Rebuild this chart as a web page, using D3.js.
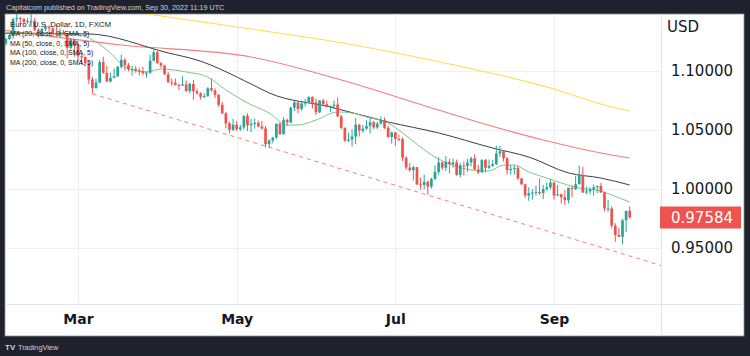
<!DOCTYPE html>
<html><head><meta charset="utf-8">
<script src="https://cdn.jsdelivr.net/npm/d3@7"></script>
<style>html,body{margin:0;padding:0;background:#1e222d;}svg{display:block;}</style>
</head><body><svg id="c" width="750" height="356"></svg>
<script>
const dates = [
"2022-01-31",
"2022-02-01","2022-02-02","2022-02-03","2022-02-04","2022-02-07","2022-02-08","2022-02-09","2022-02-10","2022-02-11","2022-02-14","2022-02-15","2022-02-16","2022-02-17","2022-02-18","2022-02-21","2022-02-22","2022-02-23","2022-02-24","2022-02-25","2022-02-28",
"2022-03-01","2022-03-02","2022-03-03","2022-03-04","2022-03-07","2022-03-08","2022-03-09","2022-03-10","2022-03-11","2022-03-14","2022-03-15","2022-03-16","2022-03-17","2022-03-18","2022-03-21","2022-03-22","2022-03-23","2022-03-24","2022-03-25","2022-03-28","2022-03-29","2022-03-30","2022-03-31",
"2022-04-01","2022-04-04","2022-04-05","2022-04-06","2022-04-07","2022-04-08","2022-04-11","2022-04-12","2022-04-13","2022-04-14","2022-04-15","2022-04-18","2022-04-19","2022-04-20","2022-04-21","2022-04-22","2022-04-25","2022-04-26","2022-04-27","2022-04-28","2022-04-29",
"2022-05-02","2022-05-03","2022-05-04","2022-05-05","2022-05-06","2022-05-09","2022-05-10","2022-05-11","2022-05-12","2022-05-13","2022-05-16","2022-05-17","2022-05-18","2022-05-19","2022-05-20","2022-05-23","2022-05-24","2022-05-25","2022-05-26","2022-05-27","2022-05-30","2022-05-31",
"2022-06-01","2022-06-02","2022-06-03","2022-06-06","2022-06-07","2022-06-08","2022-06-09","2022-06-10","2022-06-13","2022-06-14","2022-06-15","2022-06-16","2022-06-17","2022-06-20","2022-06-21","2022-06-22","2022-06-23","2022-06-24","2022-06-27","2022-06-28","2022-06-29","2022-06-30",
"2022-07-01","2022-07-04","2022-07-05","2022-07-06","2022-07-07","2022-07-08","2022-07-11","2022-07-12","2022-07-13","2022-07-14","2022-07-15","2022-07-18","2022-07-19","2022-07-20","2022-07-21","2022-07-22","2022-07-25","2022-07-26","2022-07-27","2022-07-28","2022-07-29",
"2022-08-01","2022-08-02","2022-08-03","2022-08-04","2022-08-05","2022-08-08","2022-08-09","2022-08-10","2022-08-11","2022-08-12","2022-08-15","2022-08-16","2022-08-17","2022-08-18","2022-08-19","2022-08-22","2022-08-23","2022-08-24","2022-08-25","2022-08-26","2022-08-29","2022-08-30","2022-08-31",
"2022-09-01","2022-09-02","2022-09-05","2022-09-06","2022-09-07","2022-09-08","2022-09-09","2022-09-12","2022-09-13","2022-09-14","2022-09-15","2022-09-16","2022-09-19","2022-09-20","2022-09-21","2022-09-22","2022-09-23","2022-09-26","2022-09-27","2022-09-28","2022-09-29","2022-09-30"];

const opens = [1.1146,
1.1234,1.1271,1.1304,1.1439,1.1450,1.1442,1.1415,1.1423,1.1426,1.1349,1.1306,1.1357,1.1374,1.1362,1.1322,1.1308,1.1331,1.1308,1.1196,1.1268,
1.1220,1.1125,1.1119,1.1065,1.0928,1.0855,1.0902,1.1075,1.0984,1.0912,1.0941,1.0955,1.1035,1.1094,1.1050,1.1015,1.1017,1.1005,1.0999,1.0983,1.0985,1.1087,1.1159,
1.1067,1.1046,1.0971,1.0904,1.0900,1.0882,1.0875,1.0886,1.0830,1.0890,1.0828,1.0810,1.0781,1.0788,1.0854,1.0836,1.0797,1.0713,1.0640,1.0556,1.0501,
1.0545,1.0507,1.0522,1.0620,1.0540,1.0551,1.0561,1.0530,1.0513,1.0380,1.0411,1.0436,1.0554,1.0464,1.0586,1.0563,1.0690,1.0734,1.0678,1.0724,1.0733,1.0779,
1.0733,1.0650,1.0750,1.0719,1.0696,1.0704,1.0715,1.0615,1.0518,1.0410,1.0420,1.0445,1.0545,1.0495,1.0512,1.0535,1.0566,1.0522,1.0553,1.0585,1.0518,1.0441,
1.0480,1.0425,1.0423,1.0265,1.0182,1.0160,1.0185,1.0040,1.0035,1.0060,1.0020,1.0085,1.0145,1.0225,1.0180,1.0230,1.0210,1.0225,1.0120,1.0200,1.0195,
1.0225,1.0260,1.0165,1.0140,1.0245,1.0180,1.0195,1.0210,1.0300,1.0320,1.0260,1.0160,1.0170,1.0180,1.0090,1.0040,0.9945,0.9965,0.9970,0.9975,0.9965,1.0000,1.0015,
1.0055,0.9945,0.9955,0.9930,0.9905,1.0010,1.0000,1.0040,1.0120,0.9970,0.9980,0.9995,1.0015,1.0025,0.9970,0.9835,0.9835,0.9690,0.9610,0.9595,0.9735,0.9815];

const highs = [1.1245,
1.1280,1.1315,1.1451,1.1483,1.1460,1.1446,1.1449,1.1495,1.1450,1.1363,1.1368,1.1395,1.1390,1.1370,1.1395,1.1360,1.1347,1.1310,1.1274,1.1270,
1.1234,1.1149,1.1124,1.1075,1.0950,1.0934,1.1092,1.1121,1.1044,1.0985,1.1021,1.1043,1.1137,1.1110,1.1068,1.1045,1.1040,1.1024,1.1035,1.0995,1.1137,1.1185,1.1177,
1.1076,1.1053,1.0992,1.0936,1.0937,1.0893,1.0957,1.0920,1.0900,1.0925,1.0850,1.0820,1.0812,1.0863,1.0936,1.0852,1.0804,1.0738,1.0655,1.0570,1.0594,
1.0577,1.0545,1.0623,1.0642,1.0593,1.0599,1.0580,1.0577,1.0534,1.0423,1.0443,1.0552,1.0564,1.0607,1.0597,1.0697,1.0749,1.0738,1.0736,1.0765,1.0787,1.0786,
1.0765,1.0753,1.0764,1.0750,1.0709,1.0749,1.0775,1.0630,1.0522,1.0479,1.0505,1.0601,1.0551,1.0545,1.0583,1.0606,1.0578,1.0570,1.0615,1.0606,1.0537,1.0487,
1.0485,1.0463,1.0436,1.0276,1.0219,1.0199,1.0187,1.0097,1.0120,1.0074,1.0096,1.0201,1.0268,1.0234,1.0278,1.0257,1.0258,1.0249,1.0220,1.0235,1.0254,
1.0274,1.0294,1.0205,1.0254,1.0253,1.0250,1.0248,1.0368,1.0364,1.0330,1.0272,1.0203,1.0200,1.0193,1.0094,1.0042,1.0015,0.9999,1.0028,1.0090,1.0035,1.0055,1.0080,
1.0060,1.0034,0.9960,0.9990,1.0012,1.0030,1.0112,1.0198,1.0187,1.0020,1.0018,1.0037,1.0030,1.0051,0.9976,0.9907,0.9852,0.9710,0.9670,0.9747,0.9815,0.9853];

const lows = [1.1122,
1.1216,1.1263,1.1270,1.1412,1.1400,1.1395,1.1400,1.1373,1.1339,1.1281,1.1289,1.1339,1.1314,1.1303,1.1287,1.1288,1.1303,1.1106,1.1183,1.1121,
1.1086,1.1055,1.1038,1.0890,1.0806,1.0850,1.0895,1.0977,1.0906,1.0903,1.0939,1.0950,1.1021,1.1003,1.0998,1.0961,1.0985,1.0963,1.0965,1.0945,1.0975,1.1080,1.1060,
1.1027,1.0968,1.0900,1.0874,1.0877,1.0837,1.0874,1.0822,1.0810,1.0757,1.0801,1.0758,1.0769,1.0780,1.0824,1.0770,1.0697,1.0636,1.0515,1.0470,1.0492,
1.0490,1.0492,1.0505,1.0493,1.0483,1.0511,1.0522,1.0505,1.0352,1.0350,1.0389,1.0425,1.0461,1.0462,1.0532,1.0557,1.0660,1.0642,1.0664,1.0699,1.0730,1.0682,
1.0627,1.0642,1.0713,1.0690,1.0654,1.0677,1.0608,1.0508,1.0399,1.0397,1.0359,1.0381,1.0445,1.0475,1.0502,1.0469,1.0508,1.0510,1.0548,1.0509,1.0433,1.0383,
1.0365,1.0406,1.0236,1.0162,1.0144,1.0072,1.0033,0.9998,0.9998,0.9952,1.0004,1.0074,1.0123,1.0160,1.0153,1.0131,1.0180,1.0111,1.0097,1.0114,1.0145,
1.0190,1.0160,1.0125,1.0140,1.0141,1.0171,1.0190,1.0203,1.0273,1.0233,1.0122,1.0122,1.0123,1.0076,1.0033,0.9926,0.9900,0.9910,0.9945,0.9948,0.9914,0.9982,0.9996,
0.9910,0.9943,0.9876,0.9865,0.9877,0.9929,0.9990,1.0040,0.9966,0.9955,0.9954,0.9945,0.9966,0.9967,0.9810,0.9807,0.9667,0.9552,0.9595,0.9535,0.9636,0.9749];

const closes = [1.1234,
1.1271,1.1304,1.1439,1.1450,1.1442,1.1415,1.1423,1.1426,1.1349,1.1306,1.1357,1.1374,1.1362,1.1322,1.1308,1.1331,1.1308,1.1196,1.1268,1.1220,
1.1125,1.1119,1.1065,1.0928,1.0855,1.0902,1.1075,1.0984,1.0912,1.0941,1.0955,1.1035,1.1094,1.1050,1.1015,1.1017,1.1005,1.0999,1.0983,1.0985,1.1087,1.1159,1.1067,
1.1046,1.0971,1.0904,1.0900,1.0882,1.0875,1.0886,1.0830,1.0890,1.0828,1.0810,1.0781,1.0788,1.0854,1.0836,1.0797,1.0713,1.0640,1.0556,1.0501,1.0545,
1.0507,1.0522,1.0620,1.0540,1.0551,1.0561,1.0530,1.0513,1.0380,1.0411,1.0436,1.0554,1.0464,1.0586,1.0563,1.0690,1.0734,1.0678,1.0724,1.0733,1.0779,1.0733,
1.0650,1.0750,1.0719,1.0696,1.0704,1.0715,1.0615,1.0518,1.0410,1.0420,1.0445,1.0545,1.0495,1.0512,1.0535,1.0566,1.0522,1.0553,1.0585,1.0518,1.0441,1.0480,
1.0425,1.0423,1.0265,1.0182,1.0160,1.0185,1.0040,1.0035,1.0060,1.0020,1.0085,1.0145,1.0225,1.0180,1.0230,1.0210,1.0225,1.0120,1.0200,1.0195,1.0225,
1.0260,1.0165,1.0140,1.0245,1.0180,1.0195,1.0210,1.0300,1.0320,1.0260,1.0160,1.0170,1.0180,1.0090,1.0040,0.9945,0.9965,0.9970,0.9975,0.9965,1.0000,1.0015,1.0055,
0.9945,0.9955,0.9930,0.9905,1.0010,1.0000,1.0040,1.0120,0.9970,0.9980,0.9995,1.0015,1.0025,0.9970,0.9835,0.9835,0.9690,0.9610,0.9595,0.9735,0.9815,0.97584];

// Moving averages (sample dates + values)
const ma20Dates = ["2022-01-31","2022-03-01","2022-03-14","2022-03-18","2022-03-28","2022-04-01","2022-04-12","2022-04-20","2022-04-27","2022-05-05","2022-05-13","2022-05-20","2022-05-25","2022-06-01","2022-06-09","2022-06-15","2022-06-21","2022-06-29","2022-07-05","2022-07-12","2022-07-18","2022-07-25","2022-08-01","2022-08-08","2022-08-12","2022-08-17","2022-08-23","2022-08-30","2022-09-05","2022-09-12","2022-09-20","2022-09-23","2022-09-30"];
const ma20Values = [1.1325,1.1305,1.1153,1.1034,1.0992,1.1017,1.0992,1.0949,1.0839,1.0729,1.0644,1.0542,1.0542,1.0585,1.0653,1.0644,1.0610,1.0559,1.0475,1.0356,1.0271,1.0203,1.0161,1.0153,1.0203,1.0203,1.0144,1.0093,1.0051,1.0008,0.9983,0.9949,0.9890];
const ma50Dates = ["2022-01-31","2022-03-04","2022-04-05","2022-04-15","2022-05-06","2022-05-13","2022-06-07","2022-06-29","2022-07-19","2022-08-09","2022-08-23","2022-09-07","2022-09-20","2022-09-30"];
const ma50Values = [1.1320,1.1314,1.1153,1.1093,1.0890,1.0814,1.0695,1.0568,1.0475,1.0347,1.0271,1.0136,1.0093,1.0034];
const ma100Dates = ["2022-01-31","2022-03-17","2022-05-06","2022-06-10","2022-07-19","2022-08-01","2022-08-29","2022-09-20","2022-09-30"];
const ma100Values = [1.1347,1.1220,1.1119,1.0924,1.0669,1.0585,1.0415,1.0305,1.0263];
const ma200Dates = ["2022-01-31","2022-03-01","2022-03-28","2022-05-06","2022-06-14","2022-07-22","2022-08-31","2022-09-20","2022-09-30"];
const ma200Values = [1.1640,1.1560,1.1484,1.1356,1.1229,1.1059,1.0856,1.0720,1.0661];

const trendDates = ["2022-03-07","2022-09-30"];
const trendValues = [1.0806,0.9432];

const priceTicks = [0.95,1.00,1.05,1.10];
const timeTickDates = ["2022-03-01","2022-05-02","2022-07-01","2022-09-01"];
const timeTickLabels = ["Mar","May","Jul","Sep"];
const lastPrice = 0.97584;

const headerText = "Capitalcom published on TradingView.com, Sep 30, 2022 11:19 UTC";
const legendLines = ["Euro / U.S. Dollar, 1D, FXCM","MA (20, close, 0, SMA, 5)","MA (50, close, 0, SMA, 5)","MA (100, close, 0, SMA, 5)","MA (200, close, 0, SMA, 5)"];

// ---------- drawing ----------
const svg = d3.select("#c");
const idx = new Map(dates.map((d,i)=>[d,i]));
const P = {l:5, r:661, t:14, b:304, right:744, bottom:336};

const x = d3.scaleLinear().domain([idx.get("2022-03-01"), idx.get("2022-09-01")]).range([78,554]);
const y = d3.scaleLinear().domain([0.95,1.10]).range([248,71]);

svg.append("rect").attr("width",750).attr("height",356).attr("fill","#1e222d");
svg.append("rect").attr("x",P.l).attr("y",P.t).attr("width",P.right-P.l).attr("height",P.bottom-P.t)
  .attr("fill","#ffffff").attr("stroke","#8f929b").attr("stroke-width",0.8);

const defs = svg.append("defs");
defs.append("clipPath").attr("id","plot").append("rect")
  .attr("x",P.l).attr("y",P.t).attr("width",P.r-P.l).attr("height",P.b-P.t);

// grid
const grid = svg.append("g");
grid.selectAll("line.h").data(priceTicks).join("line")
  .attr("x1",P.l).attr("x2",P.r).attr("y1",d=>Math.round(y(d))+0.5).attr("y2",d=>Math.round(y(d))+0.5)
  .attr("stroke","#eef0f5").attr("stroke-width",1);
grid.selectAll("line.v").data(timeTickDates).join("line")
  .attr("x1",d=>Math.round(x(idx.get(d)))+0.5).attr("x2",d=>Math.round(x(idx.get(d)))+0.5)
  .attr("y1",P.t).attr("y2",P.b).attr("stroke","#eef0f5").attr("stroke-width",1);

const plot = svg.append("g").attr("clip-path","url(#plot)");

// trend line (dashed) extended to the right edge of the pane
const i0 = idx.get(trendDates[0]), i1 = idx.get(trendDates[1]);
const iEnd = x.invert(P.r);
const pEnd = trendValues[0] + (trendValues[1]-trendValues[0])*(iEnd-i0)/(i1-i0);
plot.append("line")
  .attr("x1",x(i0)).attr("y1",y(trendValues[0])).attr("x2",x(iEnd)).attr("y2",y(pEnd))
  .attr("stroke","#f77c80").attr("stroke-width",1).attr("stroke-dasharray","4,4");

// moving averages
function maLine(ds, vs, color, w){
  const pts = ds.map((d,k)=>({i:idx.get(d), v:vs[k]}));
  plot.append("path").datum(pts)
    .attr("d", d3.line().x(p=>x(p.i)).y(p=>y(p.v)).curve(d3.curveMonotoneX))
    .attr("fill","none").attr("stroke",color).attr("stroke-width",w);
}
maLine(ma200Dates, ma200Values, "#f9de57", 1.1);
maLine(ma100Dates, ma100Values, "#f77c80", 1.1);
maLine(ma50Dates, ma50Values, "#3b3e48", 1);
maLine(ma20Dates, ma20Values, "#7fc683", 1);

// candles
const up = "#26a69a", dn = "#ef5350";
const candles = plot.append("g");
dates.forEach((d,i)=>{
  const o=opens[i], h=highs[i], l=lows[i], c=closes[i];
  const col = c>=o ? up : dn;
  const xc = x(i);
  candles.append("line").attr("x1",xc).attr("x2",xc).attr("y1",y(h)).attr("y2",y(l))
    .attr("stroke",col).attr("stroke-width",1);
  const top = Math.min(y(o),y(c)), hgt = Math.max(1, Math.abs(y(o)-y(c)));
  candles.append("rect").attr("x",xc-1.35).attr("width",2.7).attr("y",top).attr("height",hgt).attr("fill",col);
});

// axes separators
svg.append("line").attr("x1",P.l).attr("x2",P.right).attr("y1",P.b+0.5).attr("y2",P.b+0.5).attr("stroke","#e0e3eb");
svg.append("line").attr("x1",P.r+0.5).attr("x2",P.r+0.5).attr("y1",P.t).attr("y2",P.bottom).attr("stroke","#e0e3eb");

// price axis
const ya = svg.append("g").attr("transform",`translate(${P.r},0)`)
  .call(d3.axisRight(y).tickValues(priceTicks).tickFormat(d3.format(".5f")).tickSize(0).tickPadding(10));
ya.select(".domain").remove();
ya.selectAll("text").attr("font-family","DejaVu Sans").attr("font-size",15).attr("fill","#131722");

// last price label
svg.append("rect").attr("x",660).attr("y",y(lastPrice)-11).attr("width",81).attr("height",22).attr("fill","#ef5350");
svg.append("text").attr("x",P.r+10).attr("y",y(lastPrice)).attr("dy","0.35em")
  .attr("font-family","DejaVu Sans").attr("font-size",15).attr("fill","#ffffff").text(d3.format(".5f")(lastPrice));

svg.append("text").attr("x",667).attr("y",31.5).attr("font-family","DejaVu Sans").attr("font-size",15)
  .attr("fill","#131722").text("USD");

// time axis
const xa = svg.append("g").attr("transform",`translate(0,${P.b})`)
  .call(d3.axisBottom(x).tickValues(timeTickDates.map(d=>idx.get(d))).tickFormat((d,k)=>timeTickLabels[k]).tickSize(0).tickPadding(10));
xa.select(".domain").remove();
xa.selectAll("text").attr("font-family","DejaVu Sans").attr("font-weight","bold").attr("font-size",14).attr("fill","#131722");

// header & legend
svg.append("text").attr("x",6).attr("y",10).attr("font-family","Liberation Sans").attr("font-size",7.2)
  .attr("fill","#d1d4dc").text(headerText);
svg.selectAll("text.leg").data(legendLines).join("text").attr("class","leg")
  .attr("x",10).attr("y",(d,k)=>26.5+k*9.5).attr("font-family","Liberation Sans").attr("font-size",(d,k)=>k===0?7.8:7)
  .attr("fill","#131722").text(d=>d);

// footer logo
svg.append("text").attr("x",5).attr("y",350).attr("font-family","Liberation Sans").attr("font-weight","bold")
  .attr("font-size",8).attr("fill","#d1d4dc").text("TV");
svg.append("text").attr("x",18).attr("y",350).attr("font-family","Liberation Sans")
  .attr("font-size",7.3).attr("fill","#d1d4dc").text("TradingView");
</script></body></html>
